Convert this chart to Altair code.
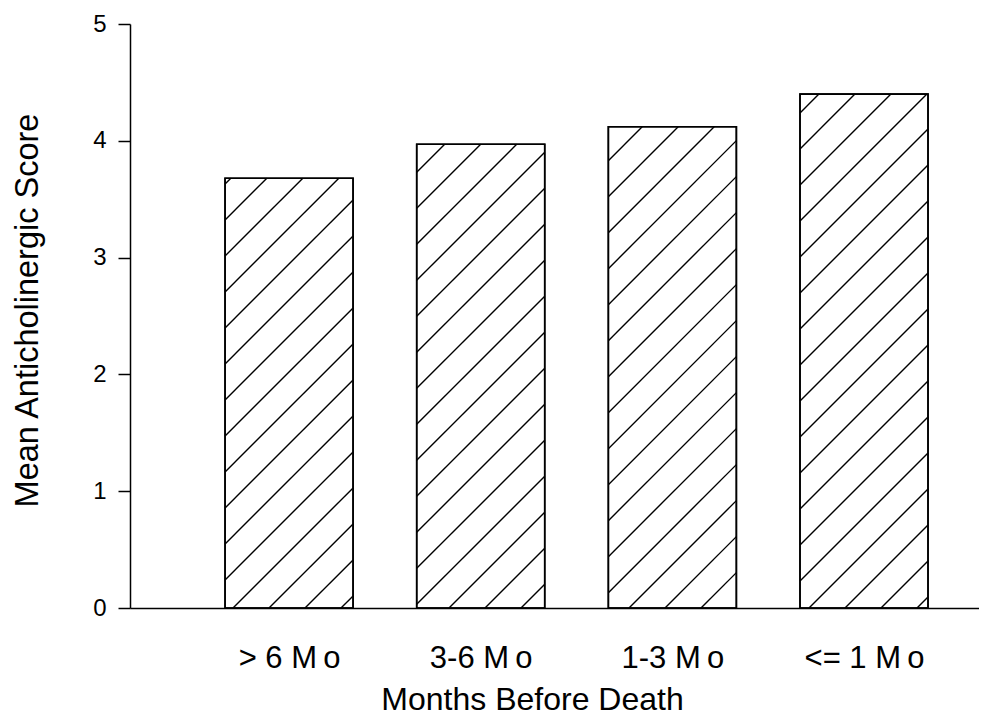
import json
import math
import altair as alt
import pandas as pd

# ---- data ----
categories = ["> 6 Mo", "3-6 Mo", "1-3 Mo", "<= 1 Mo"]
positions = [1, 2, 3, 4]
scores = [3.68, 3.97, 4.12, 4.40]
y_ticks = [0, 1, 2, 3, 4, 5]

# ---- layout / style ----
PLOT_W = 849
PLOT_H = 584
X_MIN, X_MAX = 0.17, 4.60
Y_MIN, Y_MAX = 0, 5
BAR_HALF = 0.334
HATCH_PERIOD = 36.0   # px, horizontal spacing of the hatch lines
HATCH_PHASE = 31.0    # px
FONT = "Liberation Sans"

sx = PLOT_W / (X_MAX - X_MIN)
sy = PLOT_H / (Y_MAX - Y_MIN)

bars = pd.DataFrame({"category": categories, "pos": positions, "score": scores})
bars["x0"] = bars["pos"] - BAR_HALF
bars["x1"] = bars["pos"] + BAR_HALF

# hatch segments (45 degree lines) clipped to each bar, derived from the bar data
segs = []
for _, r in bars.iterrows():
    L = (r.x0 - X_MIN) * sx
    R = (r.x1 - X_MIN) * sx
    H = r.score * sy
    k0 = math.floor((L - H - HATCH_PHASE) / HATCH_PERIOD) - 1
    k1 = math.ceil((R - HATCH_PHASE) / HATCH_PERIOD) + 1
    for k in range(k0, k1 + 1):
        c = HATCH_PHASE + k * HATCH_PERIOD
        h0 = max(0.0, L - c)
        h1 = min(H, R - c)
        if h1 - h0 > 0.5:
            segs.append({
                "hx": X_MIN + (c + h0) / sx,
                "hy": h0 / sy,
                "hx2": X_MIN + (c + h1) / sx,
                "hy2": h1 / sy,
            })
hatch = pd.DataFrame(segs)

display = [c.replace("Mo", "M\u2009o") for c in categories]
label_expr = json.dumps(display) + "[datum.value - 1]"

x_scale = alt.Scale(domain=[X_MIN, X_MAX], nice=False, zero=False)
y_scale = alt.Scale(domain=[Y_MIN, Y_MAX], nice=False)

x_axis = alt.Axis(
    values=positions, labelExpr=label_expr, ticks=False, grid=False,
    labelFlush=False, labelOverlap=False, labelPadding=59,
    labelBaseline="alphabetic", labelFontSize=31, labelFont=FONT, labelColor="#000",
    domainColor="#000", domainWidth=1.5,
    title="Months Before Death", titleFont=FONT, titleFontSize=32,
    titleFontWeight="normal", titleColor="#000",
    titleX=402, titleY=101, titleBaseline="alphabetic", titleAlign="center",
)
y_axis = alt.Axis(
    values=y_ticks, format="d", grid=False, tickSize=12, tickWidth=1.5,
    tickColor="#000", labelPadding=12, labelFontSize=24, labelFont=FONT,
    labelColor="#000", domainColor="#000", domainWidth=1.5,
    title="Mean Anticholinergic Score", titleFont=FONT, titleFontSize=32.5,
    titleFontWeight="normal", titleColor="#000",
    titleX=-103, titleY=286, titleAngle=270, titleAlign="center",
    titleBaseline="middle",
)

bar_layer = alt.Chart(bars).mark_rect(
    fill="white", stroke="#000", strokeWidth=1.6
).encode(
    x=alt.X("x0:Q", scale=x_scale, axis=x_axis),
    x2="x1:Q",
    y=alt.Y("score:Q", scale=y_scale, axis=y_axis),
    y2=alt.datum(0),
)

hatch_layer = alt.Chart(hatch).mark_rule(
    color="#000", strokeWidth=1.4, strokeCap="butt"
).encode(
    x=alt.X("hx:Q", scale=x_scale, axis=x_axis),
    x2="hx2:Q",
    y=alt.Y("hy:Q", scale=y_scale, axis=y_axis),
    y2="hy2:Q",
)

outline_layer = alt.Chart(bars).mark_rect(
    fillOpacity=0, stroke="#000", strokeWidth=1.6
).encode(
    x=alt.X("x0:Q", scale=x_scale, axis=x_axis),
    x2="x1:Q",
    y=alt.Y("score:Q", scale=y_scale, axis=y_axis),
    y2=alt.datum(0),
)

chart = alt.layer(bar_layer, hatch_layer, outline_layer).properties(
    width=PLOT_W,
    height=PLOT_H,
    autosize=alt.AutoSizeParams(type="none"),
    padding={"left": 122, "top": 16, "right": 0, "bottom": 109},
    background="white",
).configure_view(stroke=None)

chart.save("out.html", embed_options={"renderer": "svg", "actions": False})
